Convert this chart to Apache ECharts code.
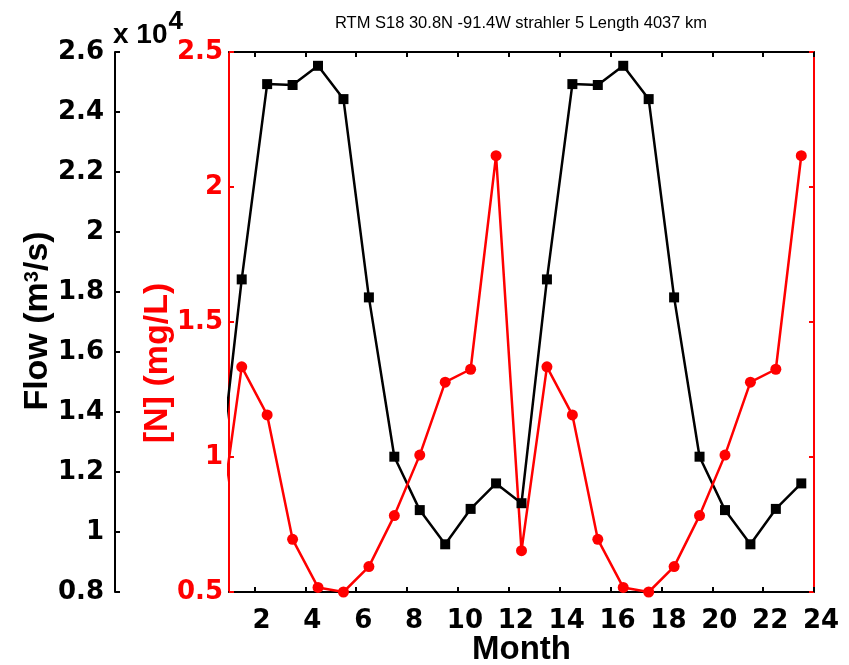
<!DOCTYPE html>
<html>
<head>
<meta charset="utf-8">
<title>RTM S18 flow and N</title>
<script src="https://cdn.jsdelivr.net/npm/echarts@6.0.0/dist/echarts.min.js"></script>
<style>
    html, body { margin: 0; padding: 0; background: #fff; }
    #main { width: 849px; height: 665px; }
</style>
</head>
<body>
<div id="main"></div>
<script>
// month positions (half-month centres); the 0.5 point repeats month 12 and is clipped by the axis
var months = [0.5, 1.5, 2.5, 3.5, 4.5, 5.5, 6.5, 7.5, 8.5, 9.5, 10.5, 11.5,
              12.5, 13.5, 14.5, 15.5, 16.5, 17.5, 18.5, 19.5, 20.5, 21.5, 22.5, 23.5];
// flow, m3/s
var flow = [10960, 18420, 24930, 24900, 25540, 24430, 17820, 12510, 10730, 9590, 10770, 11620,
            10960, 18420, 24930, 24900, 25540, 24430, 17820, 12510, 10730, 9590, 10770, 11620];
// [N], mg/L
var nitrogen = [0.653, 1.334, 1.156, 0.695, 0.517, 0.5, 0.594, 0.783, 1.007, 1.277, 1.325, 2.116,
                0.653, 1.334, 1.156, 0.695, 0.517, 0.5, 0.594, 0.783, 1.007, 1.277, 1.325, 2.116];
var monthTicks = [2, 4, 6, 8, 10, 12, 14, 16, 18, 20, 22, 24];
var flowTicks = [8000, 10000, 12000, 14000, 16000, 18000, 20000, 22000, 24000, 26000];
var nTicks = [0.5, 1, 1.5, 2, 2.5];

var tickFont = 'DejaVu Sans';
var nameFont = 'Liberation Sans';

var myChart = echarts.init(document.getElementById('main'));

var flowData = months.map(function (m, i) { return [m, flow[i]]; });
var nData = months.map(function (m, i) { return [m, nitrogen[i]]; });

var option = {
    animation: false,
    backgroundColor: '#fff',
    title: {
        text: 'RTM S18 30.8N -91.4W strahler 5 Length 4037 km',
        left: 521,
        top: 15,
        padding: 0,
        textAlign: 'center',
        textStyle: { fontFamily: nameFont, fontSize: 16.5, fontWeight: 'normal', color: '#000' }
    },
    grid: { left: 229, right: 35, top: 52, bottom: 73, outerBoundsMode: 'none' },
    xAxis: [
        {
            type: 'value',
            min: 1,
            max: monthTicks[monthTicks.length - 1],
            name: 'Month',
            nameLocation: 'middle',
            nameGap: 41,
            nameMoveOverlap: false,
            nameTextStyle: { fontFamily: nameFont, fontSize: 33, fontWeight: 'bold', color: '#000' },
            axisLine: { lineStyle: { color: '#000', width: 2 } },
            axisTick: { inside: true, length: 5, customValues: monthTicks, lineStyle: { color: '#000', width: 2 } },
            axisLabel: {
                customValues: monthTicks, margin: 16, padding: [0, 0, 0, 14],
                fontFamily: tickFont, fontSize: 26, fontWeight: 'bold', color: '#000'
            },
            splitLine: { show: false }
        },
        {
            type: 'value',                       // top frame
            position: 'top',
            min: 1,
            max: monthTicks[monthTicks.length - 1],
            axisLine: { lineStyle: { color: '#000', width: 2 } },
            axisTick: { inside: true, length: 5, customValues: monthTicks, lineStyle: { color: '#000', width: 2 } },
            axisLabel: { show: false },
            splitLine: { show: false }
        }
    ],
    yAxis: [
        {
            type: 'value',                       // flow axis, pushed out to the left
            position: 'left',
            offset: 114,
            min: flowTicks[0],
            max: flowTicks[flowTicks.length - 1],
            interval: 2000,
            axisLine: { show: true, lineStyle: { color: '#000', width: 2 } },
            axisTick: { show: true, inside: true, length: 5, lineStyle: { color: '#000', width: 2 } },
            axisLabel: {
                margin: 11, fontFamily: tickFont, fontSize: 26, fontWeight: 'bold', color: '#000',
                formatter: function (v) { return String(v / 10000); }
            },
            splitLine: { show: false }
        },
        {
            type: 'value',                       // [N] axis
            position: 'left',
            min: nTicks[0],
            max: nTicks[nTicks.length - 1],
            interval: 0.5,
            axisLine: { show: true, lineStyle: { color: '#f00', width: 2 } },
            axisTick: { show: true, inside: true, length: 5, lineStyle: { color: '#f00', width: 2 } },
            axisLabel: { margin: 6, fontFamily: tickFont, fontSize: 26, fontWeight: 'bold', color: '#f00' },
            splitLine: { show: false }
        },
        {
            type: 'value',                       // right frame
            position: 'right',
            min: nTicks[0],
            max: nTicks[nTicks.length - 1],
            interval: 0.5,
            axisLine: { show: true, lineStyle: { color: '#f00', width: 2 } },
            axisTick: { show: true, inside: true, length: 5, lineStyle: { color: '#f00', width: 2 } },
            axisLabel: { show: false },
            splitLine: { show: false }
        }
    ],
    graphic: [
        {
            type: 'text', x: 113, y: 35,
            style: {
                text: 'x 10{sup|4}', align: 'left', verticalAlign: 'middle',
                fontFamily: nameFont, fontSize: 28, fontWeight: 'bold', fill: '#000',
                rich: { sup: { fontFamily: nameFont, fontSize: 26, fontWeight: 'bold', padding: [0, 0, 27, 1] } }
            }
        },
        {
            type: 'text', x: 38, y: 321, rotation: Math.PI / 2,
            style: {
                text: 'Flow (m{sup|3}/s)', align: 'center', verticalAlign: 'middle',
                fontFamily: nameFont, fontSize: 34, fontWeight: 'bold', fill: '#000',
                rich: { sup: { fontFamily: nameFont, fontSize: 20, fontWeight: 'bold', padding: [0, 0, 12, 0] } }
            }
        },
        {
            type: 'text', x: 158, y: 363, rotation: Math.PI / 2,
            style: {
                text: '[N] (mg/L)', align: 'center', verticalAlign: 'middle',
                fontFamily: nameFont, fontSize: 34, fontWeight: 'bold', fill: '#f00'
            }
        }
    ],
    series: [
        {
            name: 'Flow',
            type: 'line',
            xAxisIndex: 0,
            yAxisIndex: 0,
            data: flowData,
            symbol: 'rect',
            symbolSize: 10,
            showAllSymbol: true,
            lineStyle: { color: '#000', width: 2.5 },
            itemStyle: { color: '#000' }
        },
        {
            name: '[N]',
            type: 'line',
            xAxisIndex: 0,
            yAxisIndex: 1,
            data: nData,
            symbol: 'circle',
            symbolSize: 11,
            showAllSymbol: true,
            lineStyle: { color: '#f00', width: 2.5 },
            itemStyle: { color: '#f00' }
        }
    ]
};

myChart.setOption(option);
</script>
</body>
</html>
